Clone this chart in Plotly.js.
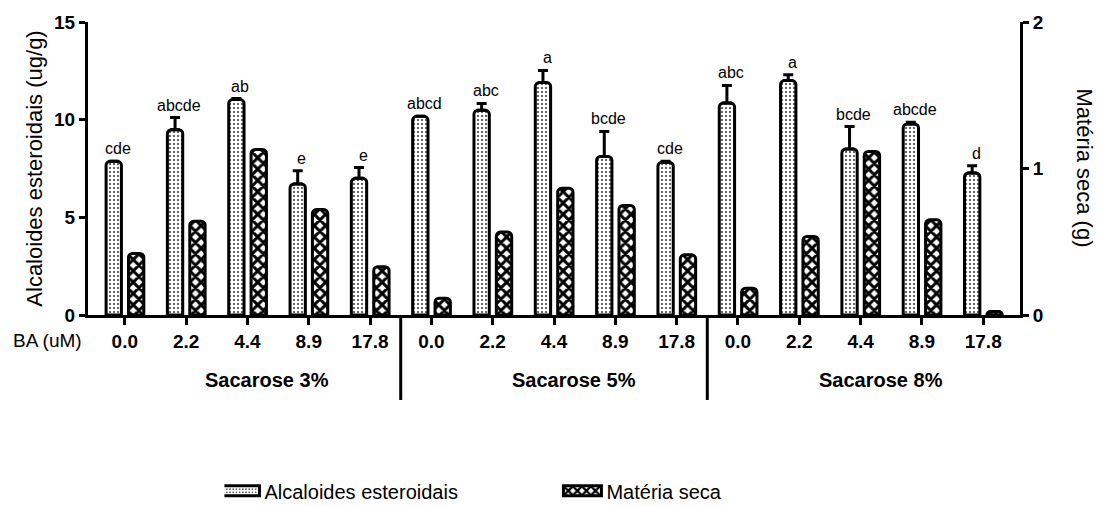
<!DOCTYPE html>
<html>
<head>
<meta charset="utf-8">
<script src="https://cdn.plot.ly/plotly-3.0.1.min.js"></script>
<style>
  html, body { margin: 0; padding: 0; background: #fff; }
  #chart { width: 1097px; height: 506px; }
</style>
</head>
<body>
<div id="chart"></div>
<script>
// BA concentrations repeated inside each sucrose level
const baLevels = ['0.0', '2.2', '4.4', '8.9', '17.8'];
const sucroseGroups = ['Sacarose 3%', 'Sacarose 5%', 'Sacarose 8%'];

// Steroidal alkaloids (ug/g), mean and upper error
const alkaloids = [7.87, 9.49, 11.03, 6.71, 7.00, 10.17, 10.48, 11.90, 8.12, 7.82, 10.85, 12.00, 8.50, 9.78, 7.27];
const alkaloidsErr = [0.00, 0.62, 0.05, 0.67, 0.55, 0.00, 0.35, 0.62, 1.28, 0.05, 0.90, 0.30, 1.15, 0.09, 0.37];

// Dry matter (g)
const dryMatter = [0.42, 0.64, 1.13, 0.72, 0.33, 0.115, 0.566, 0.866, 0.748, 0.411, 0.183, 0.536, 1.116, 0.65, 0.024];

// Mean-comparison letters for the alkaloid bars
const letters = ['cde', 'abcde', 'ab', 'e', 'e', 'abcd', 'abc', 'a', 'bcde', 'cde', 'abc', 'a', 'bcde', 'abcde', 'd'];

const FONT = 'Arial, "Liberation Sans", Helvetica, sans-serif';
const positions = alkaloids.map((_, i) => i);
const tickText = sucroseGroups.flatMap(() => baLevels);

const alkTrace = {
  type: 'bar',
  name: 'Alcaloides esteroidais',
  x: positions,
  y: alkaloids,
  yaxis: 'y',
  width: 0.25,
  offset: -0.305,
  marker: {
    color: '#ffffff',
    cornerradius: 4,
    line: { color: '#000', width: 3 },
    pattern: { shape: '.', fgcolor: '#333', bgcolor: '#ffffff', size: 4, solidity: 0.2 }
  },
  error_y: {
    type: 'data', symmetric: false,
    array: alkaloidsErr,
    arrayminus: alkaloidsErr.map(() => 0),
    color: '#000', thickness: 3, width: 5
  },
  hoverinfo: 'skip'
};

const dryTrace = {
  type: 'bar',
  name: 'Matéria seca',
  x: positions,
  y: dryMatter,
  yaxis: 'y2',
  width: 0.25,
  offset: 0.06,
  marker: {
    color: '#ffffff',
    cornerradius: 4,
    line: { color: '#000', width: 3 },
    pattern: { shape: 'x', fgcolor: '#000', bgcolor: '#ffffff', size: 8, solidity: 0.6 }
  },
  hoverinfo: 'skip'
};

const annotations = letters.map((t, i) => ({
  x: i, y: alkaloids[i] + alkaloidsErr[i], xref: 'x', yref: 'y',
  text: t, showarrow: false, xanchor: 'center', yanchor: 'bottom', xshift: -7, yshift: 2,
  font: { family: FONT, size: 16, color: '#000' }
}));

sucroseGroups.forEach((g, k) => {
  annotations.push({
    x: 2 + 5 * k, y: -0.222, xref: 'x', yref: 'paper',
    text: g, showarrow: false, xshift: 20, xanchor: 'center', yanchor: 'middle',
    font: { family: FONT, size: 20, color: '#000', weight: 'bold' }
  });
});

annotations.push({
  x: -0.043, y: -0.087, xref: 'paper', yref: 'paper',
  text: 'BA (uM)', showarrow: false, xanchor: 'center', yanchor: 'middle',
  font: { family: FONT, size: 19, color: '#000' }
});

annotations.push({
  x: 1.0697, y: 0.5, xref: 'paper', yref: 'paper',
  text: 'Matéria seca (g)', showarrow: false, textangle: 90,
  xanchor: 'center', yanchor: 'middle',
  font: { family: FONT, size: 22, color: '#000' }
});

const shapes = [4.5, 9.5].map(xv => ({
  type: 'line', xref: 'x', yref: 'paper',
  x0: xv, x1: xv, y0: 0, y1: -0.29,
  line: { color: '#000', width: 3 }
}));

const layout = {
  width: 1097, height: 506,
  margin: { l: 88, r: 77, t: 22, b: 191, autoexpand: false },
  paper_bgcolor: '#fff', plot_bgcolor: '#fff',
  barmode: 'overlay',
  showlegend: true,
  legend: {
    orientation: 'h', x: 0.1464, xanchor: 'left', y: -0.6, yanchor: 'middle',
    font: { family: FONT, size: 20, color: '#000' },
    entrywidth: 297, traceorder: 'normal'
  },
  xaxis: {
    range: [-0.6, 14.6],
    tickvals: positions, ticktext: tickText,
    showline: true, linewidth: 3, linecolor: '#000',
    ticks: 'outside', ticklen: 7, tickwidth: 3, tickcolor: '#000',
    showgrid: false, zeroline: false,
    tickfont: { family: FONT, size: 19, color: '#000', weight: 'bold' }
  },
  yaxis: {
    range: [0, 15], tickvals: [0, 5, 10, 15],
    showline: true, linewidth: 3, linecolor: '#000',
    ticks: 'outside', ticklen: 6, tickwidth: 3, tickcolor: '#000',
    showgrid: false, zeroline: false,
    tickfont: { family: FONT, size: 19, color: '#000', weight: 'bold' },
    title: { text: 'Alcaloides esteroidais (ug/g)', font: { family: FONT, size: 22, color: '#000' }, standoff: 6 }
  },
  yaxis2: {
    range: [0, 2], tickvals: [0, 1, 2], overlaying: 'y', side: 'right',
    showline: true, linewidth: 3, linecolor: '#000',
    ticks: 'outside', ticklen: 6, tickwidth: 3, tickcolor: '#000',
    showgrid: false, zeroline: false,
    tickfont: { family: FONT, size: 19, color: '#000', weight: 'bold' }
  },
  annotations: annotations,
  shapes: shapes
};

Plotly.newPlot('chart', [alkTrace, dryTrace], layout, { staticPlot: true, displayModeBar: false }).then(() => {
  // wider legend swatches, ending just before the label text
  document.querySelectorAll('#chart .legend .legendpoints path').forEach(p => {
    p.setAttribute('d', 'M15,5H-23V-5H15Z');
  });
});
</script>
</body>
</html>
